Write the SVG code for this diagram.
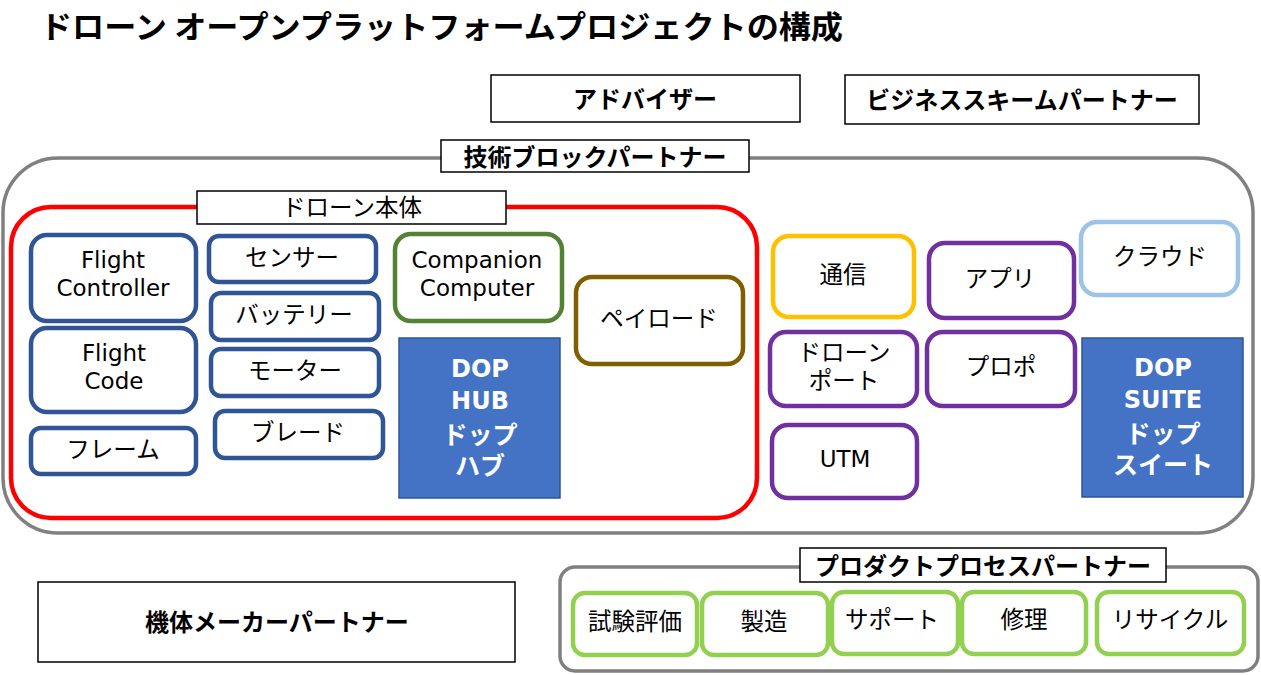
<svg xmlns="http://www.w3.org/2000/svg" width="1261" height="675" viewBox="0 0 1261 675">
<style>
text{font-family:"Noto Sans CJK JP","Noto Sans",sans-serif;fill:#000;text-anchor:middle;dominant-baseline:central}
.b{font-weight:bold}
.lbl{fill:#fff;stroke:#000;stroke-width:1.5}
.grp{fill:none;stroke:#808080;stroke-width:3.5}
.bl{fill:#fff;stroke:#2f5597;stroke-width:4.5}
.pu{fill:#fff;stroke:#7030a0;stroke-width:4.5}
.gr{fill:#fff;stroke:#92d050;stroke-width:4.5}
.fill{fill:#4472c4;stroke:#2f5597;stroke-width:1.5}
.w{fill:#fff;font-size:25px;font-weight:bold}
.wl{fill:#fff;font-size:24px;font-weight:bold;font-family:"DejaVu Sans","Noto Sans CJK JP",sans-serif}
.t{font-size:23.5px}
.l{font-size:23px;font-family:"DejaVu Sans","Noto Sans CJK JP",sans-serif}
.h{font-size:24px;font-weight:bold}
</style>
<rect width="1261" height="675" fill="#fff"/>
<text id="title" x="40" y="24" class="b" style="text-anchor:start;font-size:31px" textLength="803" lengthAdjust="spacingAndGlyphs">ドローン オープンプラットフォームプロジェクトの構成</text>

<g id="adviser"><rect x="491" y="75" width="309" height="47" class="lbl"/><text x="645" y="97" class="h">アドバイザー</text></g>
<g id="business"><rect x="845" y="75" width="354" height="49" class="lbl"/><text x="1022" y="98" class="h">ビジネススキームパートナー</text></g>

<g id="tech-block">
<rect x="3" y="158" width="1250" height="375" rx="55" class="grp"/>
<rect x="441" y="140" width="308" height="32" class="lbl"/><text x="595" y="155" class="h">技術ブロックパートナー</text>
</g>

<g id="drone-body">
<rect x="11" y="207" width="746" height="311" rx="40" fill="none" stroke="#ff0000" stroke-width="4.5"/>
<rect x="197" y="191" width="309" height="33" class="lbl"/><text x="352" y="206" class="t">ドローン本体</text>
</g>

<g id="fc"><rect x="31" y="235" width="165" height="86" rx="16" class="bl"/><text x="113" y="260" class="l">Flight</text><text x="113" y="288" class="l">Controller</text></g>
<g id="fcode"><rect x="31" y="328" width="165" height="84" rx="16" class="bl"/><text x="114" y="353" class="l">Flight</text><text x="114" y="381" class="l">Code</text></g>
<g id="frame"><rect x="31" y="428" width="165" height="46" rx="10" class="bl"/><text x="113" y="448" class="t">フレーム</text></g>
<g id="sensor"><rect x="209" y="236" width="167" height="46" rx="10" class="bl"/><text x="292" y="256" class="t">センサー</text></g>
<g id="battery"><rect x="211" y="293" width="168" height="47" rx="10" class="bl"/><text x="294" y="313" class="t">バッテリー</text></g>
<g id="motor"><rect x="211" y="349" width="168" height="47" rx="10" class="bl"/><text x="295" y="369" class="t">モーター</text></g>
<g id="blade"><rect x="215" y="411" width="168" height="47" rx="10" class="bl"/><text x="298" y="431" class="t">ブレード</text></g>
<g id="companion"><rect x="395" y="234" width="167" height="87" rx="16" fill="#fff" stroke="#548235" stroke-width="4.5"/><text x="477" y="260" class="l">Companion</text><text x="477" y="288" class="l">Computer</text></g>
<g id="dophub"><rect x="399" y="338" width="161" height="160" class="fill"/><text x="480" y="369" class="wl">DOP</text><text x="480" y="401" class="wl">HUB</text><text x="480" y="433" class="w">ドップ</text><text x="480" y="464" class="w">ハブ</text></g>
<g id="payload"><rect x="576" y="277" width="167" height="87" rx="16" fill="#fff" stroke="#7f6000" stroke-width="4.5"/><text x="659" y="317" class="t">ペイロード</text></g>

<g id="comm"><rect x="773" y="236" width="141" height="81" rx="16" fill="#fff" stroke="#ffc000" stroke-width="4.5"/><text x="843" y="273" class="t">通信</text></g>
<g id="app"><rect x="929" y="243" width="145" height="75" rx="16" class="pu"/><text x="1000" y="277" class="t">アプリ</text></g>
<g id="cloud"><rect x="1081" y="222" width="157" height="73" rx="16" fill="#fff" stroke="#9dc3e6" stroke-width="4.5"/><text x="1160" y="255" class="t">クラウド</text></g>
<g id="droneport"><rect x="770" y="332" width="147" height="74" rx="16" class="pu"/><text x="844" y="351" class="t">ドローン</text><text x="844" y="379" class="t">ポート</text></g>
<g id="propo"><rect x="927" y="332" width="148" height="74" rx="16" class="pu"/><text x="1001" y="365" class="t">プロポ</text></g>
<g id="utm"><rect x="772" y="425" width="145" height="73" rx="16" class="pu"/><text x="845" y="459" class="l">UTM</text></g>
<g id="dopsuite"><rect x="1082" y="338" width="161" height="159" class="fill"/><text x="1163" y="368" class="wl">DOP</text><text x="1163" y="400" class="wl">SUITE</text><text x="1163" y="432" class="w">ドップ</text><text x="1163" y="463" class="w">スイート</text></g>

<g id="maker"><rect x="38" y="582" width="477" height="80" class="lbl"/><text x="277" y="620" class="h">機体メーカーパートナー</text></g>

<g id="product-process">
<rect x="560" y="567" width="698" height="104" rx="15" class="grp"/>
<rect x="800" y="548" width="366" height="34" class="lbl"/><text x="983" y="564" class="h">プロダクトプロセスパートナー</text>
</g>
<g id="test"><rect x="573" y="593" width="124" height="62" rx="12" class="gr"/><text x="635" y="620" class="t">試験評価</text></g>
<g id="mfg"><rect x="702" y="593" width="126" height="62" rx="12" class="gr"/><text x="764" y="620" class="t">製造</text></g>
<g id="support"><rect x="832" y="592" width="126" height="62" rx="12" class="gr"/><text x="892" y="618" class="t">サポート</text></g>
<g id="repair"><rect x="962" y="592" width="124" height="62" rx="12" class="gr"/><text x="1024" y="618" class="t">修理</text></g>
<g id="recycle"><rect x="1097" y="592" width="147" height="62" rx="12" class="gr"/><text x="1170" y="618" class="t">リサイクル</text></g>
<g id="connectors"/>
</svg>
